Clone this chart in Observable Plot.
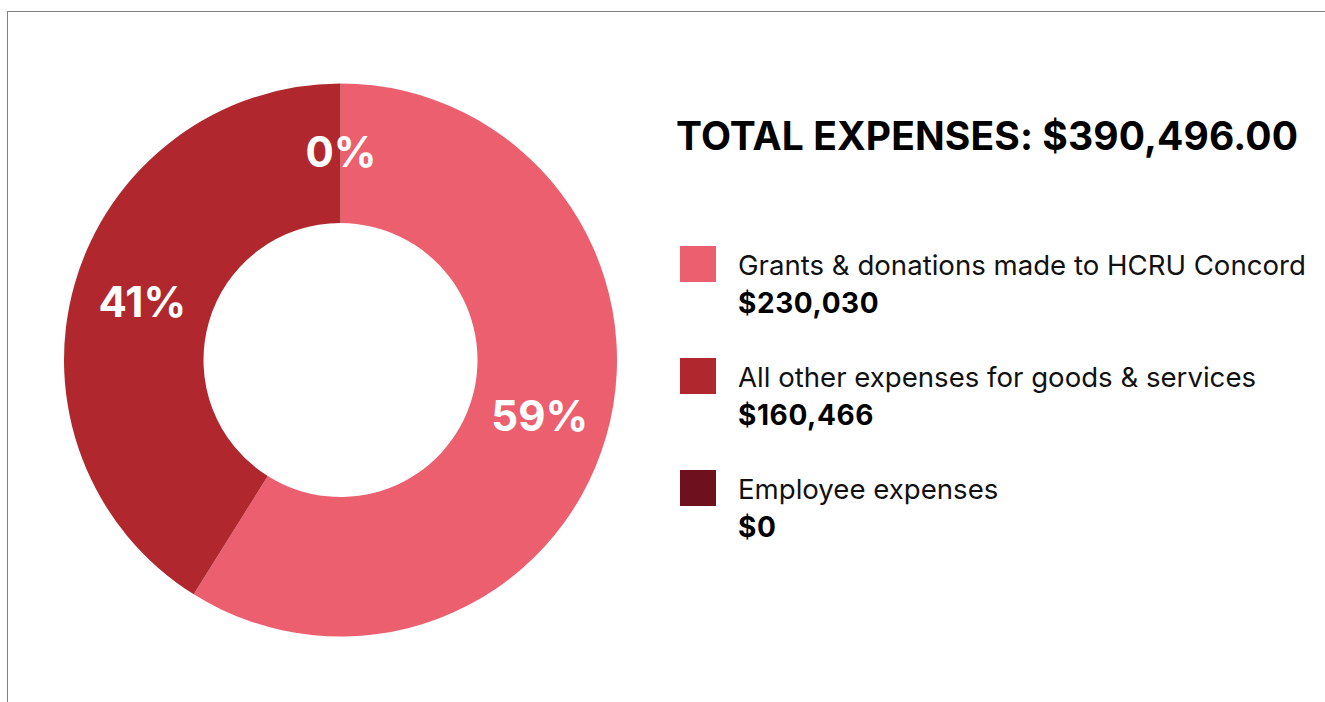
<!DOCTYPE html>
<html>
<head>
<meta charset="utf-8">
<script src="https://cdn.jsdelivr.net/npm/d3@7"></script>
<script src="https://cdn.jsdelivr.net/npm/@observablehq/plot@0.6"></script>
<style>
  html, body { margin: 0; padding: 0; background: #fff; }
  body { width: 1325px; height: 702px; overflow: hidden; position: relative; font-family: Inter, "Open Sans", sans-serif; }
  #frame { position: absolute; left: 7px; top: 11px; width: 1330px; height: 700px; border-top: 1.5px solid #808080; border-left: 1.5px solid #808080; }
  #chart { position: absolute; left: 0; top: 0; }
  #title { position: absolute; left: 676px; top: 116px; font-size: 39px; line-height: 39px; font-weight: 700; letter-spacing: 0.1px; color: #000; white-space: nowrap; }
  .item { position: absolute; left: 680px; }
  .sw { position: absolute; left: 0; top: 0; width: 36px; height: 36px; }
  .txt { position: absolute; left: 58px; top: 0px; font-size: 27.6px; line-height: 38px; color: #111; white-space: nowrap; }
  .txt b { font-weight: 700; color: #000; font-size: 28px; letter-spacing: 0.6px; }
</style>
</head>
<body>
<div id="frame"></div>
<div id="chart"></div>
<div id="title"></div>
<div id="legend"></div>
<script>
// ---- data ----
const categories = [
  "Grants & donations made to HCRU Concord",
  "All other expenses for goods & services",
  "Employee expenses"
];
const amounts = [230030, 160466, 0];
const amountLabels = ["$230,030", "$160,466", "$0"];
const colors = ["#EC5F6F", "#B0282E", "#6E101D"];
const totalLabel = "TOTAL EXPENSES: $390,496.00";

// ---- layout ----
const W = 680, H = 702, cx = 340.5, cy = 360, R = 276.5, R0 = 137;

const rows = categories.map((c, i) => ({category: c, amount: amounts[i], label: amountLabels[i]}));
const total = d3.sum(amounts);
const arcs = d3.pie().sort(null).value(d => d.amount)(rows);
const arcGen = d3.arc().innerRadius(R0).outerRadius(R);
const slices = arcs.map(a => {
  const [lx, ly] = arcGen.centroid(a);
  return {...a.data, startAngle: a.startAngle, endAngle: a.endAngle, pct: Math.round(a.data.amount / total * 100), lx, ly};
});
const colorFallback = d3.scaleOrdinal(categories, colors);

const donut = (index, scales) => {
  const X = scales && scales.x ? scales.x : v => v + cx;
  const Y = scales && scales.y ? scales.y : v => v + cy;
  const C = scales && scales.color ? scales.color : colorFallback;
  const g = d3.create("svg:g").attr("transform", `translate(${X(0)},${Y(0)})`);
  g.selectAll("path").data(slices).join("path")
    .attr("d", d => arcGen(d))
    .attr("fill", d => C(d.category));
  return g.node();
};

const plot = Plot.plot({
  width: W,
  height: H,
  margin: 0,
  x: {domain: [-cx, W - cx], range: [0, W], axis: null},
  y: {domain: [-cy, H - cy], range: [0, H], axis: null},
  color: {domain: categories, range: colors},
  marks: [
    donut,
    Plot.text(slices, {
      x: "lx", y: "ly",
      text: d => d.pct + "%",
      fill: "white",
      fontSize: 42,
      fontWeight: 700,
      fontFamily: "Inter, sans-serif"
    })
  ]
});
document.getElementById("chart").appendChild(plot);

document.getElementById("title").textContent = totalLabel;
const legend = document.getElementById("legend");
rows.forEach((r, i) => {
  const item = document.createElement("div");
  item.className = "item";
  item.style.top = (246 + 112 * i) + "px";
  const sw = document.createElement("div");
  sw.className = "sw";
  sw.style.background = colors[i];
  const txt = document.createElement("div");
  txt.className = "txt";
  txt.appendChild(document.createTextNode(r.category));
  txt.appendChild(document.createElement("br"));
  const b = document.createElement("b");
  b.textContent = r.label;
  txt.appendChild(b);
  item.appendChild(sw);
  item.appendChild(txt);
  legend.appendChild(item);
});
</script>
</body>
</html>
